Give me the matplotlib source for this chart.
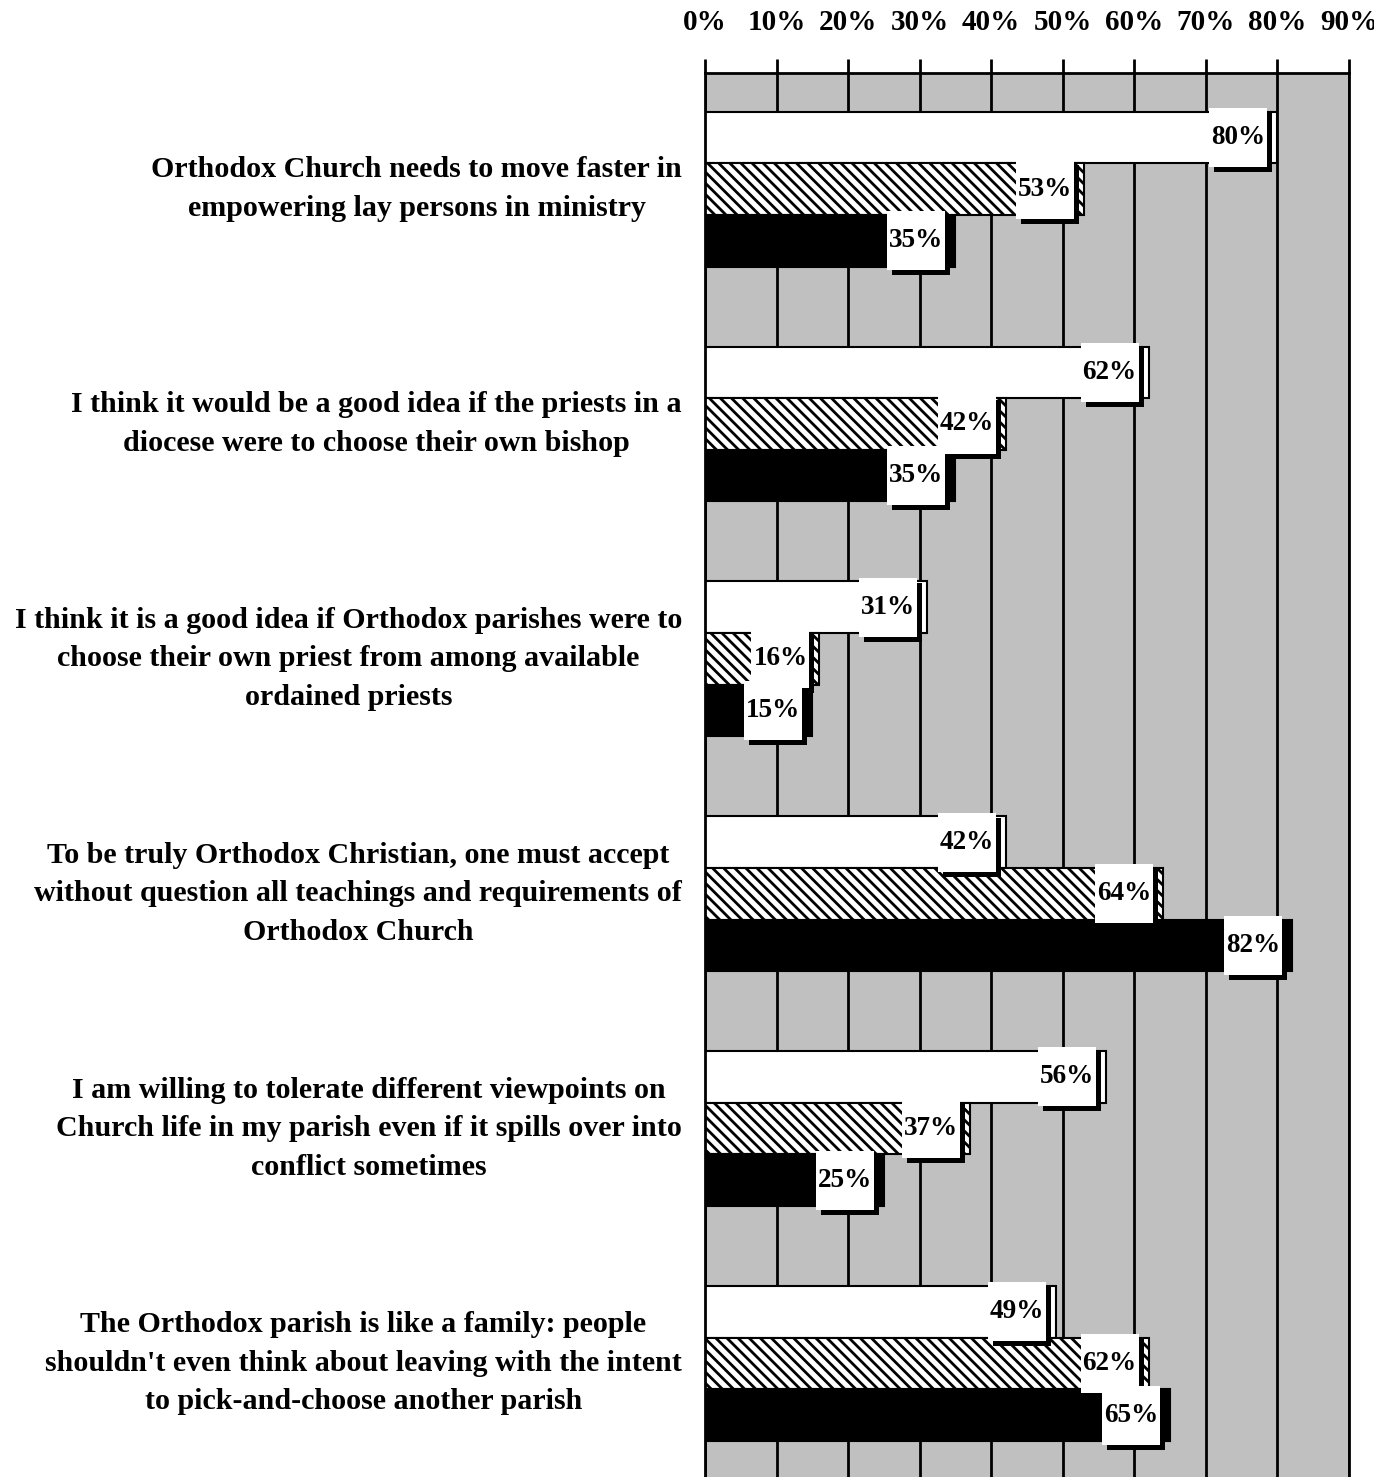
import matplotlib.pyplot as plt
import numpy as np
from matplotlib.patches import Rectangle

plt.rcParams.update({"font.family": ["Liberation Serif", "DejaVu Serif"],
                     "font.weight": "bold",
                     "hatch.linewidth": 2.0,
                     "hatch.color": "black"})

categories = [
    "Orthodox Church needs to move faster in\nempowering lay persons in ministry",
    "I think it would be a good idea if the priests in a\ndiocese were to choose their own bishop",
    "I think it is a good idea if Orthodox parishes were to\nchoose their own priest from among available\nordained priests",
    "To be truly Orthodox Christian, one must accept\nwithout question all teachings and requirements of\nOrthodox Church",
    "I am willing to tolerate different viewpoints on\nChurch life in my parish even if it spills over into\nconflict sometimes",
    "The Orthodox parish is like a family: people\nshouldn't even think about leaving with the intent\nto pick-and-choose another parish",
]
series_white = [80, 62, 31, 42, 56, 49]
series_hatched = [53, 42, 16, 64, 37, 62]
series_black = [35, 35, 15, 82, 25, 65]
tick_values = [0, 10, 20, 30, 40, 50, 60, 70, 80, 90]

W, H, DPI = 1374, 1477, 100
fig = plt.figure(figsize=(W / DPI, H / DPI), dpi=DPI)
fig.patch.set_facecolor("white")
ax = fig.add_axes([705 / W, 0, 644 / W, 1 - 73 / H])
ax.set_facecolor("#c0c0c0")

pitch = 4.55
centers = np.arange(len(categories)) * pitch
xpx = 644 / 90.0      # pixels per x unit
ypx = (H - 73) / (5 * pitch + 2.2 + 2.25)  # pixels per y unit

styles = [
    (series_white, -1, dict(color="white", edgecolor="black")),
    (series_hatched, 0, dict(color="white", edgecolor="black", hatch="\\\\\\")),
    (series_black, 1, dict(color="black", edgecolor="black")),
]

for vals, off, st in styles:
    ys = centers + off
    ax.barh(ys, vals, height=1.0, linewidth=1.5, zorder=2, **st)
    for v, y in zip(vals, ys):
        bw = 58 / xpx
        bh = 59 / ypx
        right = v - 10 / xpx
        x0 = right - bw
        # shadow then box
        ax.add_patch(Rectangle((x0 + 5 / xpx, y - bh / 2 + 5 / ypx), bw, bh,
                               facecolor="black", edgecolor="none", zorder=3))
        ax.add_patch(Rectangle((x0, y - bh / 2), bw, bh,
                               facecolor="white", edgecolor="none", zorder=4))
        ax.text(x0 + bw / 2, y, f"{v}%", ha="center", va="center",
                fontsize=19.5, fontweight="bold", zorder=5)

for c, label in zip(centers, categories):
    ax.annotate(label, xy=(0, c), xycoords=("axes fraction", "data"),
                xytext=(-23 * 72 / DPI, 0), textcoords="offset points",
                ha="right", va="center", multialignment="center",
                fontsize=21.6, fontweight="bold", linespacing=1.55)

ax.set_xlim(0, 90)
ax.set_ylim(5 * pitch + 2.2, -2.25)
ax.set_xticks(tick_values)
ax.set_xticklabels([f"{t}%" for t in tick_values], fontsize=21, fontweight="bold")
ax.xaxis.tick_top()
ax.tick_params(axis="x", length=10, width=2, pad=17, color="black")
ax.set_yticks([])
ax.set_axisbelow(True)
ax.grid(axis="x", color="black", linewidth=2, zorder=0)
for s in ["top", "left", "right"]:
    ax.spines[s].set_linewidth(2)
ax.spines["bottom"].set_visible(False)

fig.savefig("out.png", dpi=DPI)
